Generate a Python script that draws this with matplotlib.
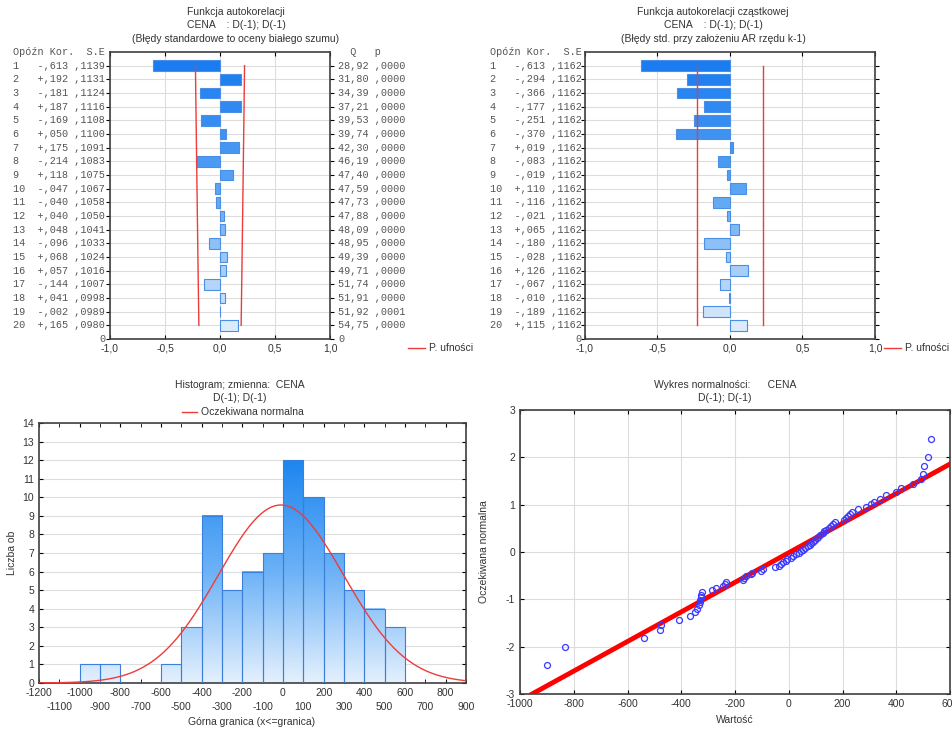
import numpy as np
import matplotlib
matplotlib.use('Agg')
import matplotlib.pyplot as plt
from matplotlib import transforms
from matplotlib.colors import LinearSegmentedColormap
from matplotlib.lines import Line2D
from statistics import NormalDist

plt.rcParams['font.family'] = ['Liberation Sans', 'DejaVu Sans']
plt.rcParams['axes.unicode_minus'] = False

# data: autocorrelation (ACF)
acf_corr = [-0.613, 0.192, -0.181, 0.187, -0.169, 0.050, 0.175, -0.214, 0.118, -0.047,
            -0.040, 0.040, 0.048, -0.096, 0.068, 0.057, -0.144, 0.041, -0.002, 0.165]
acf_se = [0.1139, 0.1131, 0.1124, 0.1116, 0.1108, 0.1100, 0.1091, 0.1083, 0.1075, 0.1067,
          0.1058, 0.1050, 0.1041, 0.1033, 0.1024, 0.1016, 0.1007, 0.0998, 0.0989, 0.0980]
acf_q = [28.92, 31.80, 34.39, 37.21, 39.53, 39.74, 42.30, 46.19, 47.40, 47.59,
         47.73, 47.88, 48.09, 48.95, 49.39, 49.71, 51.74, 51.91, 51.92, 54.75]
acf_p = [0.0000] * 18 + [0.0001, 0.0000]

# data: partial autocorrelation (PACF)
pacf_corr = [-0.613, -0.294, -0.366, -0.177, -0.251, -0.370, 0.019, -0.083, -0.019, 0.110,
             -0.116, -0.021, 0.065, -0.180, -0.028, 0.126, -0.067, -0.010, -0.189, 0.115]
pacf_se = [0.1162] * 20

# data: histogram (upper bin bounds, counts)
hist_upper = [-900, -800, -700, -600, -500, -400, -300, -200, -100, 0,
              100, 200, 300, 400, 500, 600]
hist_counts = [1, 1, 0, 0, 1, 3, 9, 5, 6, 7, 12, 10, 7, 5, 4, 3]
hist_mean, hist_sd = -10, 308

# data: normal probability plot (sorted values)
norm_values = [-901, -831, -540, -478, -474, -407, -367, -350, -343, -335,
               -331, -329, -327, -325, -323, -286, -272, -244, -238, -234,
               -171, -165, -158, -142, -137, -104, -94, -53, -35, -29,
               -20, -9, -5, 8, 14, 28, 37, 45, 52, 62,
               70, 78, 83, 90, 97, 104, 110, 118, 126, 133,
               140, 150, 157, 165, 172, 204, 212, 222, 228, 235,
               256, 288, 305, 318, 340, 362, 399, 418, 461, 492,
               498, 505, 517, 529]
line_mean, line_sd = 5, 320

W, H = 953, 729
fig = plt.figure(figsize=(W / 100, H / 100), dpi=100)

RED = '#ee3b3b'
TXT = '#333333'
SPINE = '#404040'
GRID = '#dddddd'
bar_cmap = LinearSegmentedColormap.from_list('bars', ['#1a7cf0', '#5ea6f3', '#dcebfc'])
hist_cmap = LinearSegmentedColormap.from_list('hist', ['#e4f0fd', '#6cb2f7', '#1e86ef'])


def axes_px(l, t, r, b):
    return fig.add_axes([l / W, 1 - b / H, (r - l) / W, (b - t) / H])


def style_spines(ax):
    for s in ax.spines.values():
        s.set_color(SPINE)
        s.set_linewidth(1.2)


def fmt_corr(c):
    return ('+' if c >= 0 else '-') + ',' + f'{abs(c) * 1000:03.0f}'


def fmt_frac(v):
    return ',' + f'{v * 10000:04.0f}'


def correlogram(ax, corr, se, table_x, q=None, p=None, q_x=None):
    n = len(corr)
    lags = np.arange(1, n + 1)
    colors = bar_cmap(np.linspace(0, 1, n))
    ax.barh(lags, corr, height=0.8, color=colors, edgecolor='#4a8fe6', lw=0.8, zorder=3)
    lim = 1.96 * np.asarray(se)
    ax.plot(-lim, lags, color=RED, lw=1, zorder=4)
    ax.plot(lim, lags, color=RED, lw=1, zorder=4)
    ax.set_xlim(-1, 1)
    ax.set_ylim(n + 1, 0)
    ax.set_xticks([-1, -0.5, 0, 0.5, 1])
    ax.set_xticklabels(['-1,0', '-0,5', '0,0', '0,5', '1,0'], fontsize=7.5, color=TXT)
    ax.set_yticks(np.arange(1, n + 2))
    ax.set_yticklabels([])
    ax.grid(color=GRID, lw=0.8)
    ax.set_axisbelow(True)
    ax.tick_params(axis='x', direction='in', top=True, length=3, pad=3)
    ax.tick_params(axis='y', direction='out', left=True, right=True, length=3)
    style_spines(ax)

    tr = transforms.blended_transform_factory(fig.transFigure, ax.transData)
    mono = dict(family='Liberation Mono', fontsize=7.3, color='#555555', va='center', transform=tr)
    fig.text(table_x / W, 0, 'Opóźn Kor.  S.E', **mono)
    for lag, c, s in zip(lags, corr, se):
        fig.text(table_x / W, lag, f'{lag:<4d}{fmt_corr(c)} {fmt_frac(s)}', **mono)
    fig.text((ax.get_position().x0 * W - 4) / W, n + 1, '0', ha='right', **mono)
    if q is not None:
        fig.text(q_x / W, 0, '  Q   p', **mono)
        for lag, qq, pp in zip(lags, q, p):
            fig.text(q_x / W, lag, f'{qq:.2f}'.replace('.', ',') + ' ' + fmt_frac(pp), **mono)
        fig.text(q_x / W, n + 1, '0', **mono)


def legend_line(x0, y, label, length=17):
    fig.add_artist(Line2D([x0 / W, (x0 + length) / W], [1 - y / H, 1 - y / H],
                          transform=fig.transFigure, color=RED, lw=1))
    fig.text((x0 + length + 4) / W, 1 - y / H, label, fontsize=7.5, color=TXT, va='center')


def center_text(x, y, s):
    fig.text(x / W, 1 - y / H, s, fontsize=7.5, color=TXT, ha='center', va='center')


# ACF panel
ax1 = axes_px(110, 52, 330, 339)
correlogram(ax1, acf_corr, acf_se, 13, acf_q, acf_p, 338)
center_text(236, 12, 'Funkcja autokorelacji')
center_text(236, 25, 'CENA    : D(-1); D(-1)')
center_text(236, 39, '(Błędy standardowe to oceny białego szumu)')
legend_line(408, 348, 'P. ufności')

# PACF panel
ax2 = axes_px(585, 52, 875, 339)
correlogram(ax2, pacf_corr, pacf_se, 490)
center_text(713, 12, 'Funkcja autokorelacji cząstkowej')
center_text(713, 25, 'CENA    : D(-1); D(-1)')
center_text(713, 39, '(Błędy std. przy założeniu AR rzędu k-1)')
legend_line(884, 348, 'P. ufności')

# Histogram panel
ax3 = axes_px(39, 423, 466, 683)
grad_top = max(hist_counts)
for upper, c in zip(hist_upper, hist_counts):
    if c == 0:
        continue
    ax3.imshow(np.linspace(0, c, 100).reshape(-1, 1), cmap=hist_cmap, vmin=0, vmax=grad_top,
               extent=[upper - 100, upper, 0, c], origin='lower', aspect='auto', zorder=2)
ax3.bar(np.array(hist_upper) - 50, hist_counts, width=100, fill=False,
        edgecolor='#3b7fdc', lw=0.8, zorder=3)
xs = np.linspace(-1200, 900, 400)
ys = sum(hist_counts) * 100 / (hist_sd * np.sqrt(2 * np.pi)) * np.exp(-(xs - hist_mean) ** 2 / (2 * hist_sd ** 2))
ax3.plot(xs, ys, color=RED, lw=1, zorder=4)
ax3.set_xlim(-1200, 900)
ax3.set_ylim(0, 14)
even_ticks = np.arange(-1200, 901, 200)
odd_ticks = np.arange(-1100, 901, 200)
ax3.set_xticks(even_ticks)
ax3.set_xticklabels([str(v) for v in even_ticks], fontsize=7.5, color=TXT)
ax3.set_xticks(odd_ticks, minor=True)
ax3.set_xticklabels([str(v) for v in odd_ticks], minor=True, fontsize=7.5, color=TXT)
ax3.set_yticks(np.arange(0, 15))
ax3.tick_params(axis='y', labelsize=7.5, labelcolor=TXT)
ax3.tick_params(which='both', direction='in', top=True, right=True, length=3)
ax3.tick_params(axis='x', which='minor', pad=14)
ax3.yaxis.grid(True, color=GRID, lw=0.8)
ax3.set_axisbelow(True)
style_spines(ax3)
center_text(240, 385, 'Histogram; zmienna:  CENA')
center_text(240, 398, 'D(-1); D(-1)')
legend_line(182, 412, 'Oczekiwana normalna', length=15)
center_text(252, 722, 'Górna granica (x<=granica)')
fig.text(12 / W, 1 - 553 / H, 'Liczba ob', fontsize=7.5, color=TXT, rotation=90,
         ha='center', va='center')

# Normal probability plot
ax4 = axes_px(520, 410, 950, 694)
n = len(norm_values)
expected = [NormalDist().inv_cdf((i - 0.375) / (n + 0.25)) for i in range(1, n + 1)]
ax4.axline((line_mean, 0), slope=1 / line_sd, color='#ff0000', lw=3.5, zorder=3)
ax4.plot(norm_values, expected, 'o', ms=4.3, mfc='none', mec='#3a3aff', mew=0.9, zorder=4)
ax4.set_xlim(-1000, 600)
ax4.set_ylim(-3, 3)
ax4.set_xticks(np.arange(-1000, 601, 200))
ax4.set_yticks(np.arange(-3, 4))
ax4.tick_params(labelsize=7.5, labelcolor=TXT, direction='in', top=True, right=True, length=3)
ax4.grid(color=GRID, lw=0.8)
ax4.set_axisbelow(True)
style_spines(ax4)
center_text(725, 385, 'Wykres normalności:      CENA')
center_text(725, 398, 'D(-1); D(-1)')
center_text(735, 720, 'Wartość')
fig.text(484 / W, 1 - 552 / H, 'Oczekiwana normalna', fontsize=7.5, color=TXT, rotation=90,
         ha='center', va='center')

fig.savefig('out.png', dpi=100)
